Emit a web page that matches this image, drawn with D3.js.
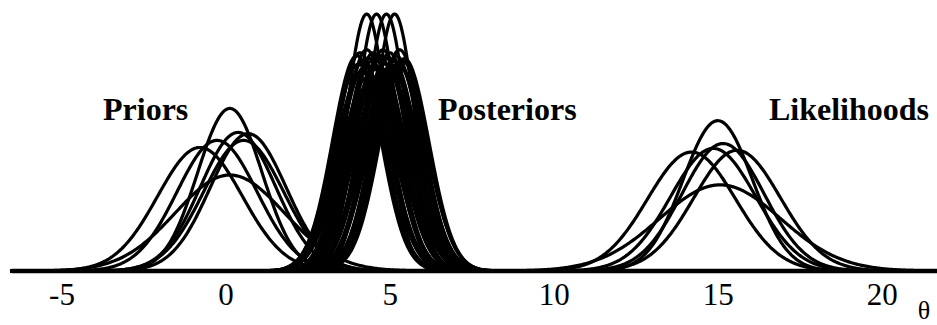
<!DOCTYPE html>
<html>
<head>
<meta charset="utf-8">
<script src="https://cdn.jsdelivr.net/npm/d3@7"></script>
<style>
  html, body { margin: 0; padding: 0; background: #fff; }
  svg { display: block; }
</style>
</head>
<body>
<svg id="chart" width="937" height="325"></svg>
<script>
// Normal curves: prior, likelihood and posterior densities for theta
const priorMeans = [0.13, 0.38, 0.69, -0.78, -0.26, 0.13, 0.55];
const priorSDs   = [0.98, 1.15, 1.16, 1.29, 1.22, 1.66, 1.22];

const likelihoodMeans = [15.0, 14.2, 14.86, 15.16, 15.59, 15.07];
const likelihoodSDs   = [1.06, 1.34, 1.30, 1.25, 1.32, 1.85];

const posteriorMeans = [4.3, 4.6, 4.9, 5.15,
  4.0, 4.1, 4.2, 4.3, 4.4, 4.5, 4.6, 4.7, 4.8, 4.9, 5.0, 5.1, 5.2, 5.3, 5.45,
  4.05, 4.25, 4.45, 4.65, 4.85, 5.05, 5.25, 5.4,
  4.14, 4.34, 4.54, 4.75, 4.96, 5.15, 5.35];
const posteriorSDs = [0.62, 0.62, 0.62, 0.62,
  0.74, 0.73, 0.76, 0.72, 0.75, 0.73, 0.76, 0.74, 0.72, 0.75, 0.73, 0.76, 0.74, 0.72, 0.75,
  0.77, 0.78, 0.76, 0.78, 0.77, 0.78, 0.77, 0.76,
  0.80, 0.82, 0.79, 0.81, 0.80, 0.82, 0.79];

const tickValues = [-5, 0, 5, 10, 15, 20];
const groupLabels = ["Priors", "Posteriors", "Likelihoods"];
const axisTitle = "θ";

const W = 937, H = 325;
const svg = d3.select("#chart");
svg.append("rect").attr("width", W).attr("height", H).attr("fill", "#fff");

const x = d3.scaleLinear().domain([-6.57, 21.68]).range([10, 937]);
const peakDensity = 1 / (0.62 * Math.sqrt(2 * Math.PI));
const y = d3.scaleLinear().domain([0, peakDensity]).range([271, 14]);

const density = (m, s) => t => Math.exp(-0.5 * ((t - m) / s) ** 2) / (s * Math.sqrt(2 * Math.PI));
const grid = d3.range(-6.57, 21.7, 0.04);

const line = d3.line()
  .x(d => x(d[0]))
  .y(d => y(d[1]));

function drawCurves(means, sds, cls) {
  const g = svg.append("g").attr("class", cls);
  means.forEach((m, i) => {
    const f = density(m, sds[i]);
    g.append("path")
      .datum(grid.map(t => [t, f(t)]))
      .attr("d", line)
      .attr("fill", "none")
      .attr("stroke", "#000")
      .attr("stroke-width", 3.2)
      .attr("stroke-linejoin", "round");
  });
}

drawCurves(priorMeans, priorSDs, "priors");
drawCurves(likelihoodMeans, likelihoodSDs, "likelihoods");
drawCurves(posteriorMeans, posteriorSDs, "posteriors");

// Baseline axis
const axis = d3.axisBottom(x)
  .tickValues(tickValues)
  .tickSize(0)
  .tickPadding(12)
  .tickFormat(d => d < 0 ? "-" + Math.abs(d) : String(d));

const gAxis = svg.append("g")
  .attr("transform", "translate(0,271)")
  .call(axis);
gAxis.select(".domain").remove();
gAxis.selectAll("text")
  .attr("font-family", "'Liberation Serif', 'Times New Roman', serif")
  .attr("font-size", 31)
  .attr("fill", "#000");

svg.append("line")
  .attr("x1", 12).attr("x2", 940)
  .attr("y1", 271).attr("y2", 271)
  .attr("stroke", "#000")
  .attr("stroke-width", 4.5)
  .attr("stroke-linecap", "round");

svg.append("text")
  .attr("x", 924).attr("y", 319)
  .attr("text-anchor", "middle")
  .attr("font-family", "'Liberation Serif', 'Times New Roman', serif")
  .attr("font-size", 26)
  .text(axisTitle);

// Group labels
const labelPos = [
  { x: 103, anchor: "start" },
  { x: 438, anchor: "start" },
  { x: 929, anchor: "end" }
];
svg.selectAll("text.group")
  .data(groupLabels)
  .join("text")
  .attr("class", "group")
  .attr("x", (d, i) => labelPos[i].x)
  .attr("y", 120)
  .attr("text-anchor", (d, i) => labelPos[i].anchor)
  .attr("font-family", "'Liberation Serif', 'Times New Roman', serif")
  .attr("font-weight", "bold")
  .attr("font-size", 32)
  .attr("fill", "#000")
  .text(d => d);
</script>
</body>
</html>
